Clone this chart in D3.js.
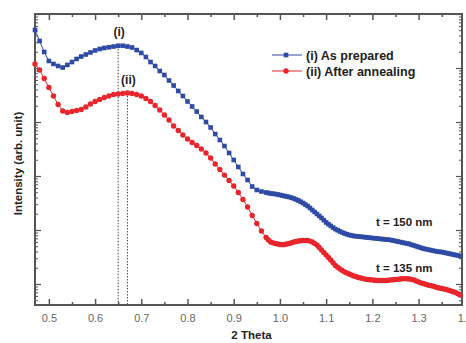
<!DOCTYPE html>
<html>
<head>
<meta charset="utf-8">
<script src="https://cdn.jsdelivr.net/npm/d3@7"></script>
<style>
  body { margin: 0; background: #fff; }
  svg { display: block; font-family: "Liberation Sans", Arial, sans-serif; }
  .tick-label { fill: #666; font-size: 11px; }
  .bold { font-weight: bold; fill: #222; }
</style>
</head>
<body>
<div id="chart"></div>
<script>
// 2 theta positions: step 0.01 up to 0.97, then step 0.005 (denser scan)
const twoTheta = d3.range(47, 98).map(i => i / 100)
  .concat(d3.range(195, 279).map(i => i / 200));

// (i) As prepared, intensity (arb. unit)
const asPrepared = [
  5.06e5, 3.16e5, 1.98e5, 1.35e5, 1.19e5, 1.09e5, 1.02e5, 1.14e5, 1.29e5, 1.47e5,
  1.63e5, 1.78e5, 1.94e5, 2.11e5, 2.25e5, 2.35e5, 2.42e5, 2.50e5, 2.58e5, 2.58e5,
  2.50e5, 2.40e5, 2.15e5, 1.90e5, 1.60e5, 1.29e5, 1.09e5, 8.80e4, 7.42e4, 5.87e4,
  4.74e4, 3.75e4, 3.03e4, 2.40e4, 1.94e4, 1.56e4, 1.24e4, 1.00e4, 7.91e3, 5.99e3,
  4.64e3, 3.59e3, 2.67e3, 1.98e3, 1.47e3, 1.09e3, 843, 639, 551, 516,
  495,
  485, 474, 469, 464, 455, 445, 435, 426, 417, 408,
  395, 383, 367, 352, 334, 316, 296, 278, 256, 235,
  216, 198, 182, 167, 152, 138, 128, 119, 111, 104,
  98.8, 93.8, 89.9, 86.1, 83.4, 80.8, 79.1, 77.4, 76.6, 75.8,
  75.0, 74.2, 73.4, 72.6, 71.8, 71.1, 70.3, 69.6, 68.8, 68.1,
  67.4, 66.7, 66.0, 65.3, 63.9, 62.6, 61.2, 59.9, 58.6, 57.4,
  56.2, 55.1, 53.3, 51.6, 50.0, 48.4, 46.9, 45.4, 44.4, 43.5,
  42.6, 41.7, 40.8, 40.0, 39.5, 39.1, 38.3, 37.5, 36.7, 35.9,
  35.1, 34.4, 33.7, 33.0
];

// (ii) After annealing
const annealed = [
  1.19e5, 9.18e4, 6.39e4, 4.35e4, 3.03e4, 2.11e4, 1.60e4, 1.50e4, 1.56e4, 1.63e4,
  1.70e4, 1.90e4, 2.15e4, 2.40e4, 2.61e4, 2.84e4, 3.03e4, 3.23e4, 3.30e4, 3.37e4,
  3.44e4, 3.37e4, 3.23e4, 3.03e4, 2.72e4, 2.40e4, 2.02e4, 1.67e4, 1.35e4, 1.09e4,
  8.43e3, 6.96e3, 5.74e3, 4.84e3, 4.17e3, 3.67e3, 3.16e3, 2.67e3, 2.15e3, 1.67e3,
  1.32e3, 1.04e3, 825, 653, 495, 367, 267, 186, 132, 95.8,
  72.6,
  65.5, 59.9, 57.8, 56.2, 55.0, 53.9, 53.6, 53.9, 55.0, 56.2,
  58.0, 59.9, 61.3, 62.6, 63.4, 63.9, 64.1, 63.9, 62.3, 59.9,
  56.5, 52.7, 47.5, 42.6, 38.2, 34.4, 30.9, 27.8, 24.7, 22.0,
  20.4, 19.0, 17.8, 16.7, 16.0, 15.3, 14.7, 14.1, 13.6, 13.2,
  12.9, 12.6, 12.3, 12.1, 12.0, 11.9, 11.7, 11.6, 11.6, 11.6,
  11.6, 11.6, 11.7, 11.9, 12.0, 12.1, 12.2, 12.4, 12.5, 12.6,
  12.5, 12.4, 12.2, 11.9, 11.4, 10.9, 10.5, 10.2, 9.88, 9.58,
  9.38, 9.18, 8.88, 8.61, 8.43, 8.25, 8.08, 7.91, 7.66, 7.42,
  7.19, 6.96, 6.60, 6.25
];

const xTicks = [0.5, 0.6, 0.7, 0.8, 0.9, 1.0, 1.1, 1.2, 1.3, 1.4];
const xMinor = [0.55, 0.65, 0.75, 0.85, 0.95, 1.05, 1.15, 1.25, 1.35];
const peaks = [
  { label: "(i)", x: 0.65, y: 2.58e5 },
  { label: "(ii)", x: 0.67, y: 3.44e4 }
];
const thickness = [
  { label: "t = 150 nm", x: 1.208, y: 120 },
  { label: "t = 135 nm", x: 1.208, y: 16.5 }
];
const series = [
  { name: "(i) As prepared", values: asPrepared, color: "#2e4aa6", shape: "square" },
  { name: "(ii) After annealing", values: annealed, color: "#e9252c", shape: "circle" }
];

const width = 466, height = 343;
const margin = { top: 14, right: 4, bottom: 38, left: 35 };

const svg = d3.select("#chart").append("svg")
  .attr("width", width)
  .attr("height", height);

const x = d3.scaleLinear()
  .domain([0.47, 1.394])
  .range([margin.left, width - margin.right]);

const y = d3.scaleLog()
  .domain([10 ** (6 - 291 / 54), 1e6])
  .range([height - margin.bottom, margin.top]);

const x0 = x.range()[0], x1 = x.range()[1];
const y0 = y.range()[0], y1 = y.range()[1];

// log ticks for the y axes (no labels)
const yMajor = [1e1, 1e2, 1e3, 1e4, 1e5, 1e6];
const yMinor = [];
[1, 10, 100, 1000, 1e4, 1e5].forEach(d => {
  for (let k = 2; k <= 9; k++) {
    const v = d * k;
    if (v >= y.domain()[0]) yMinor.push(v);
  }
});

const axisColor = "#555";
const axes = svg.append("g").attr("class", "axes");

// bottom axis with labels, ticks inward
axes.append("g")
  .attr("transform", `translate(0,${y0})`)
  .call(d3.axisBottom(x).tickValues(xTicks).tickSize(-6).tickPadding(9).tickFormat(d3.format(".1f")))
  .call(g => g.select(".domain").remove())
  .call(g => g.selectAll(".tick line").attr("stroke", axisColor).attr("stroke-width", 1.5)
    .filter(d => d > 1.394).remove())
  .call(g => g.selectAll(".tick text").attr("class", "tick-label").attr("fill", null));

axes.append("g")
  .attr("transform", `translate(0,${y0})`)
  .call(d3.axisBottom(x).tickValues(xMinor).tickSize(-3).tickFormat(""))
  .call(g => g.select(".domain").remove())
  .call(g => g.selectAll(".tick line").attr("stroke", axisColor).attr("stroke-width", 1.5));

// top axis, ticks only
axes.append("g")
  .attr("transform", `translate(0,${y1})`)
  .call(d3.axisTop(x).tickValues(xTicks.filter(d => d < 1.394)).tickSize(-6).tickFormat(""))
  .call(g => g.select(".domain").remove())
  .call(g => g.selectAll(".tick line").attr("stroke", axisColor).attr("stroke-width", 1.5));
axes.append("g")
  .attr("transform", `translate(0,${y1})`)
  .call(d3.axisTop(x).tickValues(xMinor).tickSize(-3).tickFormat(""))
  .call(g => g.select(".domain").remove())
  .call(g => g.selectAll(".tick line").attr("stroke", axisColor).attr("stroke-width", 1.5));

// left & right log axes
[[d3.axisLeft, x0], [d3.axisRight, x1]].forEach(([ax, pos]) => {
  axes.append("g")
    .attr("transform", `translate(${pos},0)`)
    .call(ax(y).tickValues(yMajor).tickSize(-6).tickFormat(""))
    .call(g => g.select(".domain").remove())
    .call(g => g.selectAll(".tick line").attr("stroke", axisColor).attr("stroke-width", 1.2));
  axes.append("g")
    .attr("transform", `translate(${pos},0)`)
    .call(ax(y).tickValues(yMinor).tickSize(-3).tickFormat(""))
    .call(g => g.select(".domain").remove())
    .call(g => g.selectAll(".tick line").attr("stroke", axisColor).attr("stroke-width", 1));
});

// frame
axes.append("rect")
  .attr("x", x0).attr("y", y1)
  .attr("width", x1 - x0).attr("height", y0 - y1)
  .attr("fill", "none")
  .attr("stroke", axisColor)
  .attr("stroke-width", 2);

// dotted peak markers
svg.append("g").selectAll("line")
  .data(peaks)
  .join("line")
  .attr("x1", d => x(d.x)).attr("x2", d => x(d.x))
  .attr("y1", d => y(d.y)).attr("y2", y0)
  .attr("stroke", "#444")
  .attr("stroke-width", 1)
  .attr("stroke-dasharray", "1.5,1.5");

svg.append("g").selectAll("text")
  .data(peaks)
  .join("text")
  .attr("class", "bold")
  .attr("x", d => x(d.x) + 1)
  .attr("y", (d, i) => y(d.y) - (i === 0 ? 10 : 9))
  .attr("text-anchor", "middle")
  .attr("font-size", 12)
  .text(d => d.label);

// series
const sq = 4.6, rad = 2.7;
series.forEach(s => {
  const g = svg.append("g");
  const pts = twoTheta.map((t, i) => [t, s.values[i]]);
  g.append("path")
    .datum(pts)
    .attr("fill", "none")
    .attr("stroke", s.color)
    .attr("stroke-width", 1)
    .attr("d", d3.line().x(d => x(d[0])).y(d => y(d[1])));
  if (s.shape === "square") {
    g.selectAll("rect")
      .data(pts)
      .join("rect")
      .attr("x", d => x(d[0]) - sq / 2)
      .attr("y", d => y(d[1]) - sq / 2)
      .attr("width", sq).attr("height", sq)
      .attr("fill", s.color);
  } else {
    g.selectAll("circle")
      .data(pts)
      .join("circle")
      .attr("cx", d => x(d[0]))
      .attr("cy", d => y(d[1]))
      .attr("r", rad)
      .attr("fill", s.color);
  }
});

// legend
const legend = svg.append("g").attr("transform", "translate(272,55)");
series.forEach((s, i) => {
  const row = legend.append("g").attr("transform", `translate(0,${i * 16})`);
  row.append("line")
    .attr("x1", 0).attr("x2", 30)
    .attr("stroke", s.color).attr("stroke-width", 1);
  if (s.shape === "square") {
    row.append("rect").attr("x", 14 - sq / 2).attr("y", -sq / 2)
      .attr("width", sq).attr("height", sq).attr("fill", s.color);
  } else {
    row.append("circle").attr("cx", 14).attr("r", rad).attr("fill", s.color);
  }
  row.append("text")
    .attr("class", "bold")
    .attr("x", 34).attr("y", 4.5)
    .attr("font-size", 12.5)
    .text(s.name);
});

// thickness labels
svg.append("g").selectAll("text")
  .data(thickness)
  .join("text")
  .attr("class", "bold")
  .attr("x", d => x(d.x))
  .attr("y", d => y(d.y))
  .attr("font-size", 11.5)
  .text(d => d.label);

// axis titles
svg.append("text")
  .attr("class", "bold")
  .attr("x", (x0 + x1) / 2 + 3)
  .attr("y", 339)
  .attr("text-anchor", "middle")
  .attr("font-size", 11.5)
  .text("2 Theta");

svg.append("text")
  .attr("class", "bold")
  .attr("transform", `translate(22,${(y0 + y1) / 2 + 4}) rotate(-90)`)
  .attr("text-anchor", "middle")
  .attr("font-size", 11.5)
  .text("Intensity (arb. unit)");
</script>
</body>
</html>
